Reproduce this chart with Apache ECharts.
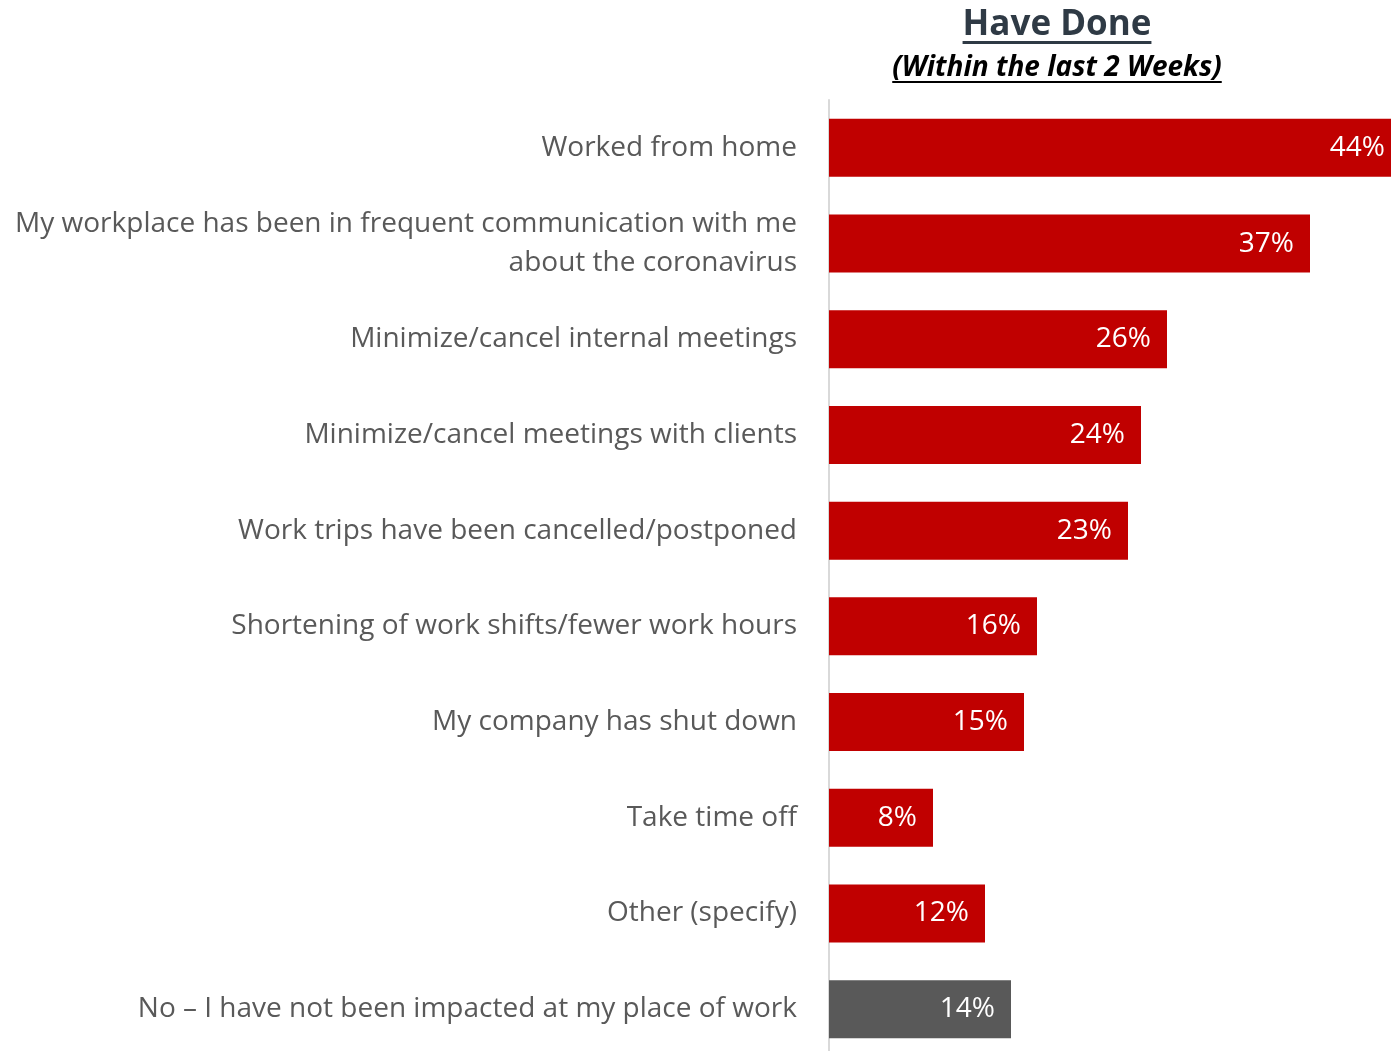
<!DOCTYPE html>
<html>
<head>
<meta charset="utf-8">
<script src="https://cdn.jsdelivr.net/npm/echarts@6/dist/echarts.min.js"></script>
<style>
html,body{margin:0;padding:0;background:#fff;}
#chart{width:1391px;height:1051px;}
</style>
</head>
<body>
<div id="chart"></div>
<script>
const categories = [
  "Worked from home",
  "My workplace has been in frequent communication with me\nabout the coronavirus",
  "Minimize/cancel internal meetings",
  "Minimize/cancel meetings with clients",
  "Work trips have been cancelled/postponed",
  "Shortening of work shifts/fewer work hours",
  "My company has shut down",
  "Take time off",
  "Other (specify)",
  "No \u2013 I have not been impacted at my place of work"
];
const values = [44, 37, 26, 24, 23, 16, 15, 8, 12, 14];
const barColors = ["#c00000","#c00000","#c00000","#c00000","#c00000","#c00000","#c00000","#c00000","#c00000","#595959"];
const titleText = "Have Done";
const subtitleText = "(Within the last 2 Weeks)";

const FONT = "'Open Sans', 'Noto Sans', sans-serif";

function measure(text, font) {
  const c = document.createElement('canvas').getContext('2d');
  c.font = font;
  return c.measureText(text).width;
}

const titleFont = "bold 35px 'Open Sans'";
const subFont = "italic bold 28px 'Open Sans'";
const cx = 1057;
const tW = measure(titleText, titleFont);
const sW = measure(subtitleText, subFont);

const chart = echarts.init(document.getElementById('chart'), null, {renderer: 'canvas'});
chart.setOption({
  animation: false,
  backgroundColor: '#ffffff',
  grid: {left: 829, width: 572, top: 100, height: 957, containLabel: false, outerBoundsMode: 'none'},
  xAxis: {type: 'value', min: 0, max: 44, show: false},
  yAxis: {
    type: 'category',
    data: categories,
    inverse: true,
    axisLine: {show: true, lineStyle: {color: '#d9d9d9', width: 2}},
    axisTick: {show: false},
    axisLabel: {
      margin: 32,
      color: '#595959',
      fontFamily: FONT,
      fontSize: 28,
      lineHeight: 39,
      align: 'right',
      padding: [2, 0, 0, 0]
    }
  },
  series: [{
    type: 'bar',
    barWidth: 58,
    clip: false,
    data: values.map((v, i) => ({value: v, itemStyle: {color: barColors[i]}})),
    label: {
      show: true,
      position: 'insideRight',
      distance: 16,
      color: '#ffffff',
      fontFamily: FONT,
      fontSize: 28,
      formatter: p => p.value + '%'
    }
  }],
  graphic: [
    {type: 'text', x: cx, y: 25, style: {text: titleText, font: titleFont, fill: '#2f3a45', align: 'center', verticalAlign: 'middle'}},
    {type: 'rect', shape: {x: cx - tW / 2, y: 41, width: tW, height: 3}, style: {fill: '#2f3a45'}},
    {type: 'text', x: cx, y: 68, style: {text: subtitleText, font: subFont, fill: '#000000', align: 'center', verticalAlign: 'middle'}},
    {type: 'rect', shape: {x: cx - sW / 2, y: 81, width: sW, height: 2}, style: {fill: '#000000'}}
  ]
});
</script>
</body>
</html>
